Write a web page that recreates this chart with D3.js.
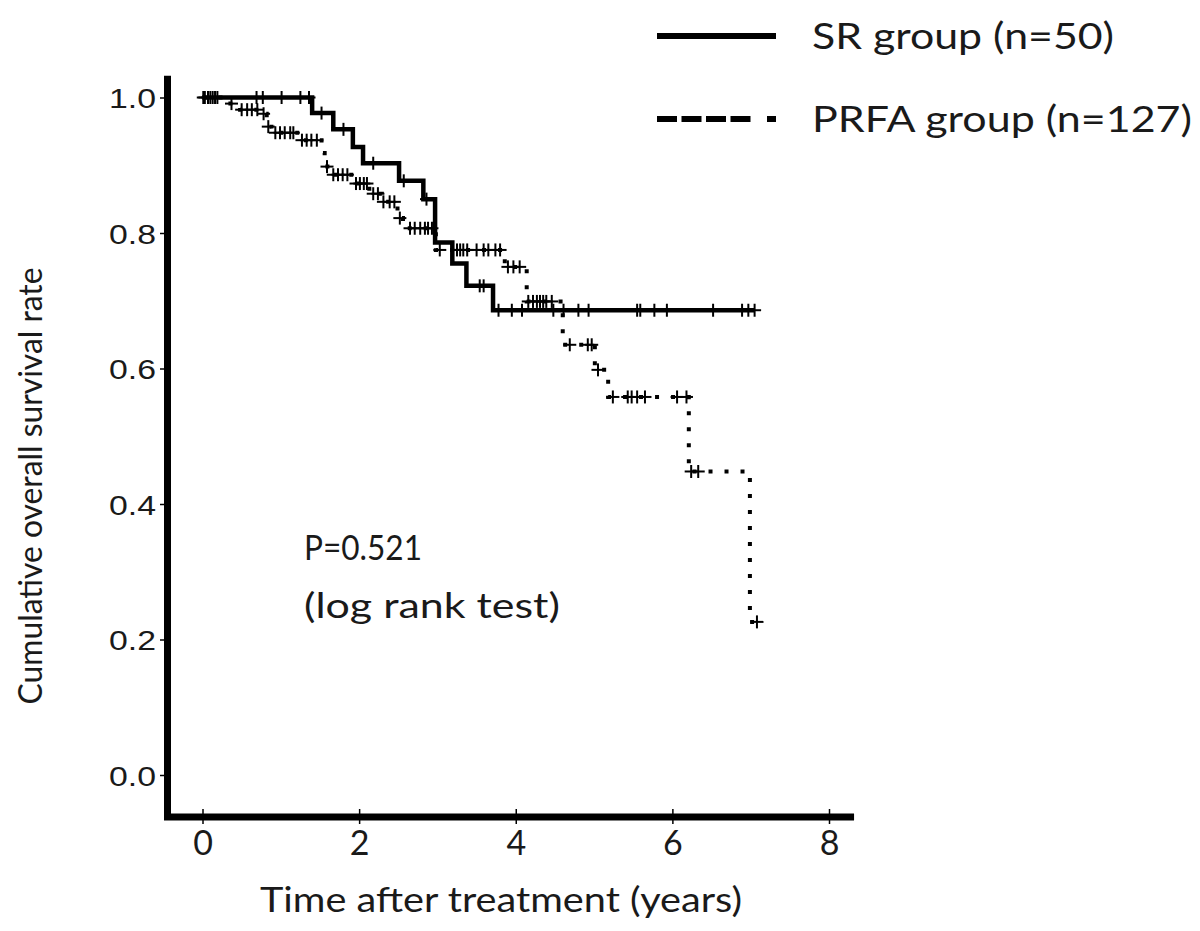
<!DOCTYPE html>
<html>
<head>
<meta charset="utf-8">
<script src="https://cdn.jsdelivr.net/npm/d3@7"></script>
<style>
  html, body { margin: 0; padding: 0; background: #fff; }
  svg { display: block; }
</style>
</head>
<body>
<div id="chart"></div>
<script>
// ---------------- data ----------------
const xTicks = [0, 2, 4, 6, 8];
const yTicks = [0.0, 0.2, 0.4, 0.6, 0.8, 1.0];

// SR group: step times and survival after each step
const srTimes = [0, 1.40, 1.67, 1.92, 2.05, 2.51, 2.82, 2.97, 3.19, 3.37, 3.71, 7.05];
const srSurv  = [1.0, 0.977, 0.953, 0.927, 0.903, 0.877, 0.850, 0.786, 0.755, 0.722, 0.686, 0.686];
const srCensor = [0.03, 0.10, 0.16, 0.69, 0.77, 1.01, 1.25, 1.36, 1.52, 1.80, 2.18, 2.57, 2.86,
                  3.54, 3.59, 3.78, 3.95, 4.08, 4.48, 4.61, 4.80, 4.93, 5.55, 5.59, 5.77, 5.93,
                  6.52, 6.89, 6.97, 7.05];

// PRFA group
const prTimes = [0, 0.33, 0.48, 0.73, 0.82, 0.88, 1.21, 1.52, 1.56, 1.63, 1.93, 2.13, 2.29,
                 2.49, 2.56, 2.98, 3.86, 4.14, 4.60, 5.01, 5.18, 6.21, 6.99, 7.08];
const prSurv  = [1.0, 0.991, 0.982, 0.976, 0.957, 0.948, 0.937, 0.918, 0.898, 0.886, 0.873, 0.858, 0.846,
                 0.822, 0.807, 0.775, 0.750, 0.699, 0.635, 0.598, 0.558, 0.448, 0.226, 0.226];
const prCensor = [0.01, 0.07, 0.13, 0.19, 0.37, 0.50, 0.57, 0.63, 0.70, 0.78, 0.84,
                  0.93, 0.99, 1.05, 1.12, 1.16, 1.27, 1.33, 1.39, 1.46, 1.59,
                  1.67, 1.73, 1.79, 1.85, 1.96, 2.01, 2.06, 2.10, 2.18, 2.24,
                  2.31, 2.39, 2.45, 2.52, 2.65, 2.71, 2.78, 2.84, 2.88, 2.93,
                  3.03, 3.25, 3.29, 3.33, 3.38, 3.50, 3.59, 3.65, 3.74, 3.80,
                  3.90, 3.97, 4.05, 4.16, 4.22, 4.27, 4.31, 4.35, 4.39, 4.46,
                  4.69, 4.92, 4.97, 5.05, 5.24, 5.43, 5.48, 5.55, 5.65, 6.06, 6.18,
                  6.24, 6.33, 7.08];

const legendLabels = ["SR group (n=50)", "PRFA group (n=127)"];
const yTitle = "Cumulative overall survival rate";
const xTitle = "Time after treatment (years)";
const pText = ["P=0.521", "(log rank test)"];

// ---------------- chart ----------------
const W = 1200, H = 931;
const svg = d3.select("#chart").append("svg").attr("width", W).attr("height", H);

const x = d3.scaleLinear().domain([0, 8]).range([202.5, 829]);
const y = d3.scaleLinear().domain([0, 1]).range([775, 97.5]);

const txtFont = "Lato, 'Open Sans', sans-serif";
const txtColor = "#1a1a1a";

// Axis lines
svg.append("line").attr("x1", 167.5).attr("x2", 167.5)
  .attr("y1", y(1.032)).attr("y2", y(-0.066))
  .attr("stroke", "#000").attr("stroke-width", 7);
svg.append("line").attr("x1", 164).attr("x2", x(8.32))
  .attr("y1", 817).attr("y2", 817)
  .attr("stroke", "#000").attr("stroke-width", 7);

// Y axis ticks
const yAxis = d3.axisLeft(y).tickValues(yTicks).tickSize(7).tickPadding(4)
  .tickFormat(d3.format(".1f"));
const gy = svg.append("g").attr("transform", "translate(167,0)").call(yAxis);
gy.select(".domain").remove();
gy.selectAll(".tick line").attr("stroke", "#000").attr("stroke-width", 1.5);
gy.selectAll(".tick text")
  .attr("font-family", "'Liberation Sans', Arial, sans-serif")
  .attr("font-size", 28).attr("fill", txtColor).attr("dy", "0.36em")
  .attr("textLength", 47).attr("lengthAdjust", "spacingAndGlyphs");

// X axis ticks
const xAxis = d3.axisBottom(x).tickValues(xTicks).tickSize(15).tickPadding(4)
  .tickFormat(d3.format("d"));
const gx = svg.append("g").attr("transform", "translate(0,809)").call(xAxis);
gx.select(".domain").remove();
gx.selectAll(".tick line").attr("stroke", "#000").attr("stroke-width", 1.5);
gx.selectAll(".tick text")
  .attr("font-family", txtFont).attr("font-size", 34).attr("fill", txtColor)
  .attr("y", 34).attr("dy", "0.35em");

// Step curves
function stepPoints(ts, ss) { return ts.map((t, i) => [t, ss[i]]); }
function survAt(ts, ss, t) {
  let v = ss[0];
  for (let i = 0; i < ts.length; i++) { if (ts[i] <= t + 1e-9) v = ss[i]; }
  return v;
}
const line = d3.line().x(d => x(d[0])).y(d => y(d[1])).curve(d3.curveStepAfter);

svg.append("path").datum(stepPoints(prTimes, prSurv)).attr("d", line)
  .attr("fill", "none").attr("stroke", "#000").attr("stroke-width", 4)
  .attr("stroke-dasharray", "4 12");

svg.append("path").datum(stepPoints(srTimes, srSurv)).attr("d", line)
  .attr("fill", "none").attr("stroke", "#000").attr("stroke-width", 4.5);

// Censor marks
function drawCensor(times, ts, ss) {
  const g = svg.append("g");
  times.forEach(t => {
    const cx = x(t), cy = y(survAt(ts, ss, t));
    g.append("line").attr("x1", cx).attr("x2", cx).attr("y1", cy - 6.5).attr("y2", cy + 6.5)
      .attr("stroke", "#000").attr("stroke-width", 2);
    g.append("line").attr("x1", cx - 6.5).attr("x2", cx + 6.5).attr("y1", cy).attr("y2", cy)
      .attr("stroke", "#000").attr("stroke-width", 2);
  });
}
drawCensor(prCensor, prTimes, prSurv);
drawCensor(srCensor, srTimes, srSurv);

// Titles
svg.append("text").attr("x", 501).attr("y", 912).attr("text-anchor", "middle")
  .attr("font-family", txtFont).attr("font-size", 34).attr("fill", txtColor)
  .attr("textLength", 482).attr("lengthAdjust", "spacingAndGlyphs")
  .text(xTitle);
svg.append("text").attr("transform", "translate(42,486) rotate(-90)")
  .attr("text-anchor", "middle")
  .attr("font-family", txtFont).attr("font-size", 32).attr("fill", txtColor)
  .attr("textLength", 437).attr("lengthAdjust", "spacingAndGlyphs")
  .text(yTitle);

// P value annotation
svg.append("text").attr("x", 304).attr("y", 560)
  .attr("font-family", txtFont).attr("font-size", 34).attr("fill", txtColor)
  .attr("textLength", 118).attr("lengthAdjust", "spacingAndGlyphs").text(pText[0]);
svg.append("text").attr("x", 304).attr("y", 618)
  .attr("font-family", txtFont).attr("font-size", 34).attr("fill", txtColor)
  .attr("textLength", 256).attr("lengthAdjust", "spacingAndGlyphs").text(pText[1]);

// Legend
const legY = [36, 119];
svg.append("line").attr("x1", 657).attr("x2", 776).attr("y1", legY[0]).attr("y2", legY[0])
  .attr("stroke", "#000").attr("stroke-width", 6);
svg.append("line").attr("x1", 657).attr("x2", 776).attr("y1", legY[1]).attr("y2", legY[1])
  .attr("stroke", "#000").attr("stroke-width", 6)
  .attr("stroke-dasharray", "20 4.5 20 4.5 20 4.5 20 16.5 9 100");
svg.append("text").attr("x", 812).attr("y", legY[0] + 13)
  .attr("font-family", txtFont).attr("font-size", 36).attr("fill", txtColor)
  .attr("textLength", 302).attr("lengthAdjust", "spacingAndGlyphs").text(legendLabels[0]);
svg.append("text").attr("x", 812).attr("y", legY[1] + 13)
  .attr("font-family", txtFont).attr("font-size", 36).attr("fill", txtColor)
  .attr("textLength", 380).attr("lengthAdjust", "spacingAndGlyphs").text(legendLabels[1]);
</script>
</body>
</html>
